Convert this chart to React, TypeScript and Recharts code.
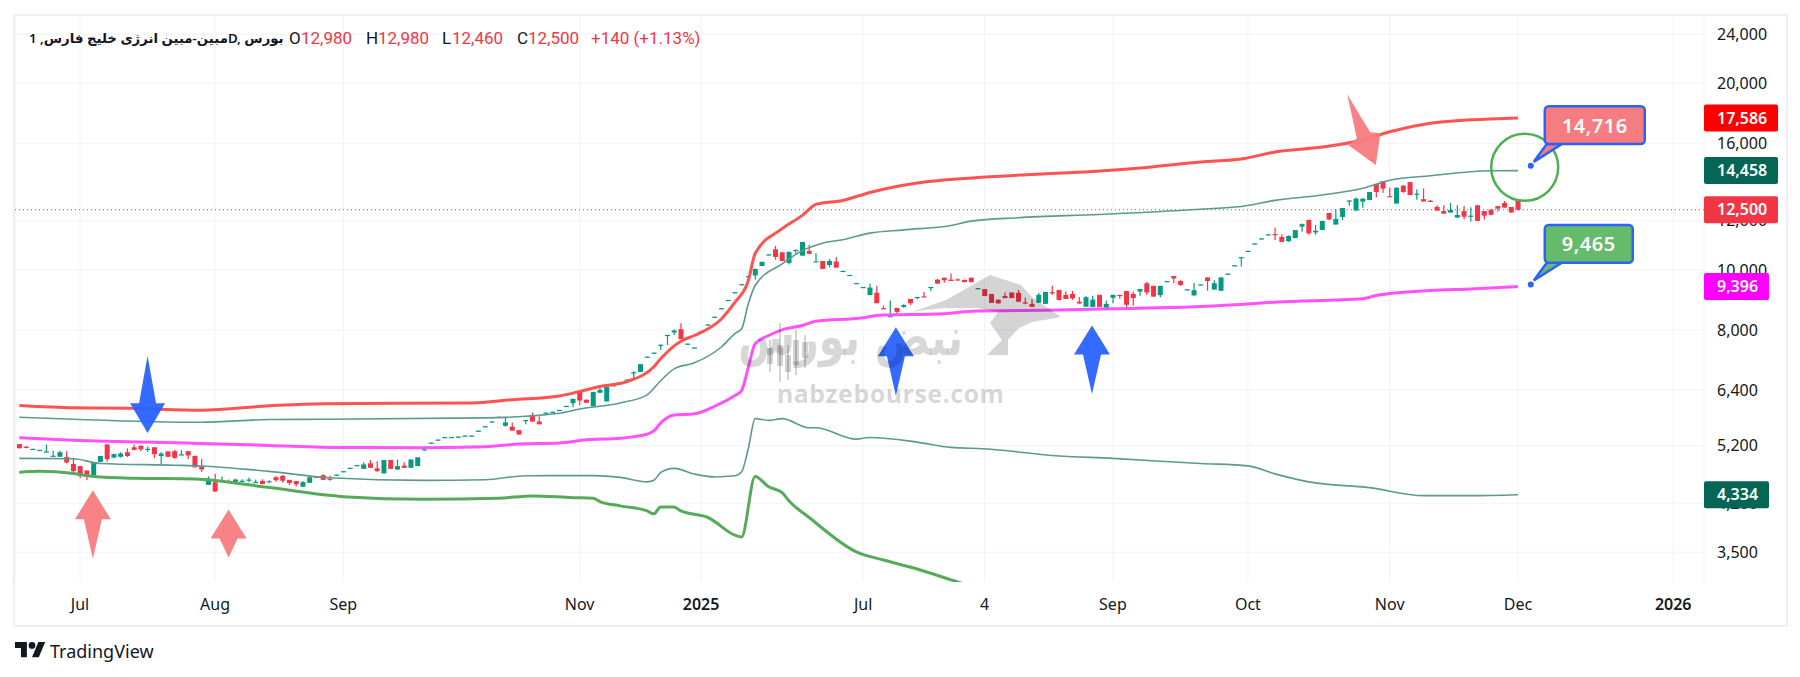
import { ComposedChart, Bar, Line, XAxis, YAxis, CartesianGrid, ReferenceLine, ReferenceDot } from "recharts";

// daily candles (bar index = position in the arrays)
const opens = [
  5230,5180,5140,5120,5080,5005,4990,4985,4860,4820,
  4740,4655,4895,5225,4975,4990,5075,5170,5200,5130,
  5170,5005,5090,5095,5030,5095,5005,4810,4495,4540,
  4555,4555,4540,4555,4575,4530,4560,4550,4625,4650,
  4580,4560,4465,4530,4640,4660,4600,4670,4730,4790,
  4840,4770,4870,4780,4690,4930,4760,4830,4790,4820,
  5130,5260,5320,5370,5370,5380,5400,5400,5500,5590,
  5690,5790,5600,5580,5510,5710,5830,5690,5880,5900,
  5940,6030,6090,6350,6170,6020,6330,6130,6510,6580,
  6650,6820,6840,7240,7350,7560,7840,7920,8020,7600,
  7490,7950,8160,8400,8670,8940,9200,9480,9760,9790,
  10140,10590,10790,10670,10260,10760,10540,10730,10320,10330,
  10180,10310,9960,9810,9520,9380,9100,9180,8670,8420,
  8680,8710,8970,9030,9060,9370,9640,9710,9640,9650,
  9630,9710,9340,9310,9140,8950,9070,9190,9180,8860,
  8810,8850,8810,9200,9280,9110,9140,8880,8720,8710,
  9110,8680,9010,9110,9240,9140,9220,9510,9420,9100,
  9590,9770,9590,9300,9090,9470,9720,9290,9250,9860,
  10170,10470,10730,11030,11240,11410,11420,11300,11120,11250,
  11740,12030,11490,11590,12350,11830,12170,12930,12460,12880,
  12960,13760,13910,13150,12790,13670,13850,13240,13000,12930,
  12630,12440,12370,12140,12440,12220,12710,12440,12510,12670,
  12820,12630,12980,
];
const highs = [
  5230,5190,5140,5120,5220,5105,5100,5095,4965,4820,
  4740,4885,5005,5225,5050,5075,5150,5225,5200,5185,
  5170,5075,5090,5120,5115,5095,5015,4950,4640,4685,
  4640,4585,4600,4590,4620,4585,4590,4575,4645,4660,
  4580,4560,4560,4625,4640,4675,4655,4670,4730,4790,
  4840,4890,4930,4910,4930,4930,4940,4890,4940,4980,
  5130,5260,5320,5370,5370,5380,5400,5400,5500,5590,
  5690,5790,5790,5670,5510,5720,5880,5800,5880,5900,
  5940,6030,6190,6350,6170,6350,6490,6470,6510,6580,
  6650,6860,7040,7240,7350,7570,7850,8010,8200,7600,
  7490,7950,8160,8400,8670,8940,9200,9480,9770,10050,
  10300,10590,10930,10670,10690,10770,11090,10970,10630,10330,
  10410,10490,9960,9810,9520,9380,9500,9420,8750,8920,
  8680,8800,8970,9040,9210,9380,9660,9710,9860,9690,
  9630,9710,9340,9310,9140,8950,9190,9190,9280,9020,
  8970,9180,9210,9430,9280,9230,9240,9040,9070,9080,
  9110,8920,9110,9110,9240,9220,9310,9560,9420,9420,
  9590,9770,9620,9300,9520,9470,9720,9620,9720,9860,
  10170,10480,10730,11030,11240,11410,11700,11410,11360,11590,
  11880,12060,11810,11990,12350,12520,12580,12940,13080,13030,
  13350,13760,13910,13570,13590,13700,13850,13490,13530,12960,
  12710,12710,12820,12710,12670,12610,12710,12440,12510,12670,
  12910,12630,12980,
];
const lows = [
  5150,5150,5140,5120,5080,5005,4990,4870,4710,4610,
  4575,4655,4895,4900,4965,4975,4985,5110,5095,5080,
  4965,4855,4985,4955,5030,4945,4795,4715,4495,4385,
  4550,4540,4530,4540,4540,4525,4505,4530,4545,4530,
  4495,4470,4460,4530,4610,4575,4565,4670,4730,4790,
  4840,4770,4790,4720,4690,4770,4750,4790,4790,4820,
  5130,5260,5320,5370,5370,5380,5400,5400,5500,5590,
  5690,5790,5580,5500,5420,5630,5680,5630,5880,5900,
  5940,6030,6000,6040,6100,6020,6330,6130,6510,6580,
  6570,6670,6840,7240,7350,7430,7560,7850,7730,7600,
  7490,7950,8160,8400,8670,8940,9200,9480,9640,9640,
  10140,10590,10380,10330,10200,10620,10540,10610,10320,10030,
  10090,10080,9960,9810,9520,9380,9100,8830,8650,8420,
  8430,8680,8770,8960,9030,9240,9480,9530,9590,9600,
  9550,9550,9340,9070,8840,8810,9000,9000,8880,8800,
  8710,8850,8810,9110,8920,8970,8940,8820,8720,8710,
  8710,8680,8830,8980,8700,8750,9080,9110,9050,9030,
  9590,9520,9420,9300,9090,9470,9250,9290,9250,9860,
  10170,10120,10730,11030,11240,11410,11170,11090,11090,11250,
  11520,11390,11390,11590,12030,11830,12030,12690,12460,12590,
  12960,13080,13310,13120,12790,13310,13200,12970,12890,12870,
  12460,12320,12370,12140,12060,11960,11990,12050,12240,12410,
  12600,12370,12460,
];
const closes = [
  5150,5170,5140,5120,5090,5010,5075,4885,4730,4645,
  4655,4885,5005,4945,5040,5050,5005,5120,5130,5140,
  5040,5050,4990,4970,5035,5015,4800,4760,4600,4385,
  4560,4540,4585,4565,4585,4545,4510,4555,4575,4565,
  4525,4505,4540,4625,4615,4580,4585,4670,4730,4790,
  4840,4850,4790,4730,4930,4770,4820,4790,4940,4980,
  5130,5260,5320,5370,5370,5380,5400,5400,5500,5590,
  5690,5790,5670,5500,5420,5720,5690,5630,5880,5900,
  5940,6030,6190,6150,6100,6350,6400,6470,6510,6580,
  6650,6830,7040,7240,7350,7570,7850,7980,7730,7600,
  7490,7950,8160,8400,8670,8940,9200,9480,9770,10030,
  10300,10590,10490,10330,10690,10770,11090,10610,10320,10030,
  10330,10080,9960,9810,9520,9380,9360,8830,8650,8420,
  8550,8770,8830,9040,9030,9380,9500,9620,9590,9630,
  9550,9550,9340,9070,8840,8830,9000,9000,8880,8840,
  8710,9110,9210,9170,8940,8970,8990,8820,9030,8950,
  8710,8810,9110,9070,8780,9000,9310,9190,9050,9420,
  9590,9680,9450,9300,9270,9470,9590,9510,9720,9860,
  10170,10480,10730,11030,11240,11410,11390,11090,11340,11590,
  11850,11450,11560,11990,12060,12080,12580,12940,13030,13030,
  13350,13350,13520,13120,13560,13350,13200,13270,12890,12870,
  12460,12320,12490,12260,12180,12230,11990,12230,12270,12550,
  12600,12370,12500,
];

// band lines, read at their bends: bar index and price
const redBars = [0,8,16,27,37,45,67,73,80,83,86,90,94,95,98,100,104,106,108,109,113,116,118,122,126,133,142,150,159,167,175,181,186,193,199,203,209,215,222];
const redVals = [6037,5986,5977,5933,6030,6080,6095,6170,6257,6360,6478,6600,6975,7183,7668,7832,8330,8855,9610,10620,11650,12240,12750,12941,13331,13810,14090,14253,14414,14630,14925,15090,15491,15780,16200,16705,17240,17460,17586];
const upperBars = [0,8,27,37,45,69,80,83,89,93,95,97,100,104,106,107,108,109,113,116,119,122,126,131,138,141,148,160,175,181,186,193,199,203,209,218,222];
const upperVals = [5780,5737,5673,5731,5737,5767,5866,5961,6096,6282,6620,6920,7077,7505,7890,8030,8823,9433,10225,10743,11040,11180,11460,11600,11792,11982,12134,12283,12525,12650,12941,13200,13537,13950,14184,14450,14458];
const pinkBars = [0,8,27,37,48,59,69,74,80,84,89,93,94,95,97,100,103,106,107,108,109,111,113,116,118,125,127,137,141,154,162,175,183,186,199,201,209,215,222];
const pinkVals = [5357,5308,5244,5206,5167,5162,5180,5231,5250,5316,5347,5428,5493,5656,5827,5856,6021,6265,6383,6962,7594,7832,8000,8129,8260,8366,8440,8490,8571,8613,8650,8720,8820,8866,8977,9089,9260,9310,9396];
const lowerBars = [0,8,12,23,27,37,46,60,69,75,85,89,93,94,95,97,100,103,106,107,108,109,111,113,117,118,124,126,133,138,143,153,162,175,182,186,191,200,208,215,222];
const lowerVals = [4960,4954,4867,4836,4822,4726,4615,4571,4582,4650,4653,4622,4546,4572,4706,4780,4680,4630,4650,4720,5150,5750,5713,5750,5560,5560,5328,5361,5270,5167,5142,5015,4960,4867,4825,4683,4546,4449,4319,4319,4334];
const greenBars = [0,3,8,11,17,26,37,48,60,71,76,82,85,86,89,93,94,95,97,98,99,102,106,107,109,111,113,114,117,124,128,133,139,142];
const greenVals = [4713,4730,4690,4636,4608,4596,4450,4303,4262,4278,4314,4287,4278,4225,4158,4080,4036,4142,4142,4080,4050,3982,3730,3705,4636,4463,4366,4236,3982,3504,3400,3288,3133,3060];

const priceTicks = [24000,20000,16000,12000,10000,8000,6400,5200,4200,3500];
const badgeValues = [17586,14458,12500,9396,4334];
const badgeColors = ["#ff0000","#056656","#f23645","#ff00ff","#056656"];
const dayTicks = [9,29,48,83,101,125,143,162,182,203,222,245];
const dayLabels = ["Jul","Aug","Sep","Nov","2025","Jul","4","Sep","Oct","Nov","Dec","2026"];

const rows = closes.map((close, i) => {
  const at = (bars: number[], vals: number[]) => {
    const k = bars.indexOf(i);
    return k >= 0 ? vals[k] : undefined;
  };
  return {
    i,
    open: opens[i],
    high: highs[i],
    low: lows[i],
    close,
    range: [lows[i], highs[i]],
    red: at(redBars, redVals),
    upper: at(upperBars, upperVals),
    pink: at(pinkBars, pinkVals),
    lower: at(lowerBars, lowerVals),
    green: at(greenBars, greenVals),
  };
});

const Candle = (props: any) => {
  const { x, y, width, height, payload } = props;
  const { open, high, low, close } = payload;
  const cx = x + width / 2;
  const toY = (v: number) => (high === low ? y : y + (height * Math.log(high / v)) / Math.log(high / low));
  const top = toY(Math.max(open, close));
  const bottom = toY(Math.min(open, close));
  const fill = close >= open ? "#089981" : "#f23645";
  return (
    <g>
      <rect x={cx - 0.6} y={y} width={1.2} height={Math.max(height, 1)} fill={fill} />
      <rect x={x} y={top} width={width} height={Math.max(bottom - top, 1.2)} fill={fill} />
    </g>
  );
};

const PriceTick = (props: any) => {
  const { x, y, payload } = props;
  const k = badgeValues.indexOf(payload.value);
  const text = payload.value.toLocaleString("en-US");
  if (k < 0) {
    return (
      <text x={x + 13} y={y} dy="0.36em" fontSize={16} fontFamily="Noto Sans" fill="#131722">
        {text}
      </text>
    );
  }
  const w = text.length > 5 ? 74 : 65;
  return (
    <g>
      <rect x={x} y={y - 13.5} width={w} height={27} rx={2} fill={badgeColors[k]} />
      <text x={x + 13} y={y} dy="0.36em" fontSize={16} fontWeight={600} fontFamily="Noto Sans" fill="#fff">
        {text}
      </text>
    </g>
  );
};

const DayTick = (props: any) => {
  const { x, y, payload } = props;
  const label = dayLabels[dayTicks.indexOf(payload.value)];
  const isYear = label.length === 4;
  return (
    <text x={x} y={y + 22} dy="0.36em" textAnchor="middle" fontSize={16} fontWeight={isYear ? 600 : 400} fontFamily="Noto Sans" fill="#131722">
      {label}
    </text>
  );
};

const arrowShape = (points: number[][], fill: string) => (p: any) => (
  <polygon points={points.map(([dx, dy]) => `${p.cx + dx},${p.cy + dy}`).join(" ")} fill={fill} fillOpacity={0.95} />
);
const upLong = [[0,0],[18,29],[9,29],[0,68.5],[-9,29],[-18,29]];
const upShort = [[0,0],[18,29],[9,29],[0,48],[-9,29],[-18,29]];
const downLong = [[0,-77.4],[8.5,-29.7],[17.5,-29.7],[0,0],[-17.5,-29.7],[-8.5,-29.7]];
const tilted = [[0,0],[23,38],[33.3,39],[28.7,70.7],[1.2,50.7],[9.7,44]];

const callout = (text: string, fill: string, w: number) => (p: any) => {
  const left = p.cx + 14;
  const top = p.cy - 59.5;
  const bottom = top + 37.7;
  return (
    <g>
      <path d={`M${p.cx + 3} ${p.cy - 4}L${left + 2} ${bottom}L${left + 17} ${bottom}Z`} fill={fill} stroke="#2962ff" strokeWidth={2.5} />
      <circle cx={p.cx} cy={p.cy} r={3} fill="#2962ff" />
      <rect x={left} y={top} width={w} height={37.7} rx={4} fill={fill} stroke="#2962ff" strokeWidth={2.5} />
      <text x={left + w / 2} y={top + 19} dy="0.36em" textAnchor="middle" fontSize={20} fontWeight={600} letterSpacing={0.5} fontFamily="Noto Sans" fill="#fff">
        {text}
      </text>
    </g>
  );
};

const ring = (p: any) => <circle cx={p.cx} cy={p.cy} r={33.5} fill="none" stroke="#4caf50" strokeWidth={2.5} />;

const headerParts = [
  { left: 289, text: "O", color: "#131722" },
  { left: 301, text: "12,980", color: "#f23645" },
  { left: 366, text: "H", color: "#131722" },
  { left: 378, text: "12,980", color: "#f23645" },
  { left: 442, text: "L", color: "#131722" },
  { left: 452, text: "12,460", color: "#f23645" },
  { left: 517, text: "C", color: "#131722" },
  { left: 528, text: "12,500", color: "#f23645" },
  { left: 591, text: "+140 (+1.13%)", color: "#f23645" },
];

// the small candlesticks inside the watermark logo
const logoSticks = [
  { x: 770, top: 340, bottom: 372, bodyTop: 348, bodyBottom: 364 },
  { x: 780, top: 323, bottom: 382, bodyTop: 345, bodyBottom: 366 },
  { x: 788, top: 345, bottom: 380, bodyTop: 355, bodyBottom: 372 },
  { x: 796, top: 330, bottom: 375, bodyTop: 340, bodyBottom: 365 },
  { x: 805, top: 335, bottom: 368, bodyTop: 342, bodyBottom: 358 },
];

export default function App() {
  return (
    <div style={{ position: "absolute", left: 0, top: 0, width: 1800, height: 677, background: "#fff", overflow: "hidden" }}>
      <div style={{ position: "absolute", left: 13, top: 14, width: 1771, height: 609, border: "2px solid #eeeef4" }} />
      <ComposedChart width={1800} height={677} data={rows} margin={{ top: 15, left: 15, right: 15, bottom: 53 }} style={{ position: "absolute", left: 0, top: 0 }}>
        <CartesianGrid stroke="#f1f3f6" horizontalValues={priceTicks} />
        <XAxis
          dataKey="i"
          type="number"
          domain={[-0.637, 249.56]}
          allowDataOverflow
          ticks={dayTicks}
          interval={0}
          height={42}
          axisLine={false}
          tickLine={false}
          tickSize={0}
          tickMargin={0}
          tick={<DayTick />}
        />
        <YAxis
          orientation="right"
          scale="log"
          domain={[3133, 25780]}
          allowDataOverflow
          ticks={[...priceTicks, ...badgeValues]}
          interval={0}
          width={81}
          axisLine={false}
          tickLine={false}
          tickSize={0}
          tickMargin={0}
          tick={<PriceTick />}
        />
        <ReferenceLine y={12500} stroke="#f23645" strokeDasharray="1 3" />
        <Line dataKey="upper" type="monotone" connectNulls dot={false} stroke="#5c9a8e" strokeWidth={1.6} isAnimationActive={false} />
        <Line dataKey="lower" type="monotone" connectNulls dot={false} stroke="#5c9a8e" strokeWidth={1.6} isAnimationActive={false} />
        <Line dataKey="red" type="monotone" connectNulls dot={false} stroke="#ff5252" strokeWidth={3} isAnimationActive={false} />
        <Line dataKey="pink" type="monotone" connectNulls dot={false} stroke="#ff52ff" strokeWidth={3} isAnimationActive={false} />
        <Line dataKey="green" type="monotone" connectNulls dot={false} stroke="#56ab5a" strokeWidth={3} isAnimationActive={false} />
        <Bar dataKey="range" barSize={5} shape={<Candle />} isAnimationActive={false} />
        <ReferenceDot x={19} y={5450} ifOverflow="visible" shape={arrowShape(downLong, "#2962ff")} />
        <ReferenceDot x={10.9} y={4405} ifOverflow="visible" shape={arrowShape(upLong, "#f77c80")} />
        <ReferenceDot x={31} y={4101} ifOverflow="visible" shape={arrowShape(upShort, "#f77c80")} />
        <ReferenceDot x={129.85} y={8078} ifOverflow="visible" shape={arrowShape(upLong, "#2962ff")} />
        <ReferenceDot x={158.9} y={8129} ifOverflow="visible" shape={arrowShape(upLong, "#2962ff")} />
        <ReferenceDot x={196.7} y={19200} ifOverflow="visible" shape={arrowShape(tilted, "#f77c80")} />
        <ReferenceDot x={223} y={14634} ifOverflow="visible" shape={ring} />
        <ReferenceDot x={223.9} y={14716} ifOverflow="visible" shape={callout("14,716", "#f77c80", 100)} />
        <ReferenceDot x={223.9} y={9465} ifOverflow="visible" shape={callout("9,465", "#66bb6a", 88)} />
      </ComposedChart>

      <svg width={1800} height={677} style={{ position: "absolute", left: 0, top: 0, pointerEvents: "none" }}>
        <g fillOpacity={0.17} fill="#000">
          <polygon points="912,312 946,300 990,275 1021,285 1032,297 1048,308 1061,317 1050,319 1032,322 1019,328 1008,340 1008,355 987,355 1002,340 990,323 998,312 977,308 946,308 925,310" />
          <text x={738} y={355} textLength={225} lengthAdjust="spacingAndGlyphs" fontSize={52} fontWeight={700} fontFamily="DejaVu Sans">نبض بورس</text>
          {logoSticks.map((s) => (
            <g key={s.x}>
              <rect x={s.x - 1} y={s.top} width={2} height={s.bottom - s.top} />
              <rect x={s.x - 3} y={s.bodyTop} width={6} height={s.bodyBottom - s.bodyTop} />
            </g>
          ))}
          <text x={777} y={403} textLength={227} fontSize={25} fontWeight={700} fontFamily="Noto Sans">nabzebourse.com</text>
        </g>
        <g transform="translate(15,638.6) scale(0.85)" fill="#131722">
          <path d="M14 22H7V11H0V4h14v18ZM28 22h-8l7.5-18h8L28 22Z" />
          <circle cx={20} cy={8} r={4} />
        </g>
        <text x={50} y={658} fontSize={18} fontFamily="Noto Sans" fill="#131722">TradingView</text>
      </svg>

      <div style={{ position: "absolute", left: 29, top: 28, fontFamily: "Noto Sans, DejaVu Sans", fontSize: 13.3, fontWeight: 600, color: "#131722", whiteSpace: "nowrap", lineHeight: "20px" }}>
        مبین-مبین انرژی خلیج فارس, 1D, بورس
      </div>
      {headerParts.map((part, k) => (
        <div key={k} style={{ position: "absolute", left: part.left, top: 28, fontFamily: "Roboto", fontSize: 17, color: part.color, whiteSpace: "nowrap", lineHeight: "20px" }}>
          {part.text}
        </div>
      ))}
    </div>
  );
}
